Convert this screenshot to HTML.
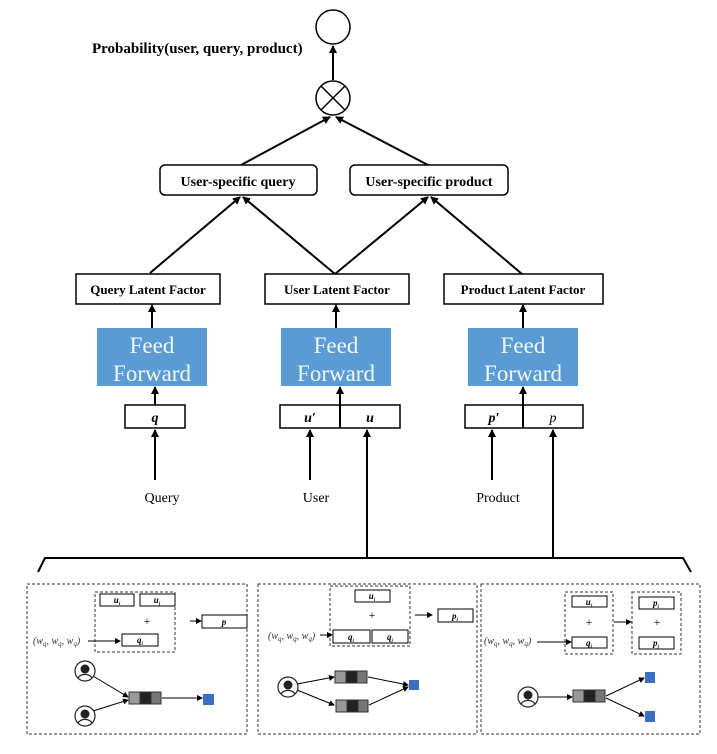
<!DOCTYPE html>
<html><head><meta charset="utf-8"><style>
html,body{margin:0;padding:0;background:#fff;}
svg{display:block;font-family:"Liberation Serif",serif;}
</style></head><body>
<svg width="717" height="754" viewBox="0 0 717 754" xmlns="http://www.w3.org/2000/svg">
<defs>
<marker id="a" markerWidth="8" markerHeight="8" refX="7" refY="4" orient="auto" markerUnits="userSpaceOnUse"><path d="M0,0 L8,4 L0,8 z" fill="#000"/></marker>
<marker id="s" markerWidth="6" markerHeight="6" refX="5" refY="3" orient="auto" markerUnits="userSpaceOnUse"><path d="M0,0 L6,3 L0,6 z" fill="#000"/></marker>
<g id="u">
<circle cx="0" cy="0" r="10" fill="#fff" stroke="#222" stroke-width="1.2"/>
<circle cx="0" cy="-2" r="4.5" fill="#222"/>
<path d="M-7,7 A8,7 0 0 1 7,7" fill="#fff" stroke="#222" stroke-width="1.2"/>
</g>
<g id="b" stroke="#333" stroke-width="1">
<rect x="0" y="0" width="11" height="12" fill="#999"/><rect x="11" y="0" width="11" height="12" fill="#222"/><rect x="22" y="0" width="10" height="12" fill="#777"/>
</g>
</defs>
<g stroke="#000" stroke-width="2" fill="none">
<circle cx="333" cy="27" r="17" stroke-width="1.5"/>
<circle cx="333" cy="98" r="17" stroke-width="1.5"/>
<line x1="321" y1="86" x2="345" y2="110" stroke-width="1.5"/><line x1="345" y1="86" x2="321" y2="110" stroke-width="1.5"/>
<line x1="333" y1="80" x2="333" y2="46" marker-end="url(#a)"/>
<line x1="241" y1="165" x2="330" y2="117" marker-end="url(#a)"/>
<line x1="428" y1="165" x2="336" y2="117" marker-end="url(#a)"/>
<rect x="160" y="165" width="157" height="30" rx="5" stroke-width="1.5"/>
<rect x="350" y="165" width="158" height="30" rx="5" stroke-width="1.5"/>
<line x1="150" y1="273" x2="240" y2="197" marker-end="url(#a)"/>
<line x1="335" y1="274" x2="243" y2="197" marker-end="url(#a)"/>
<line x1="335" y1="274" x2="428" y2="197" marker-end="url(#a)"/>
<line x1="522" y1="274" x2="431" y2="197" marker-end="url(#a)"/>
<rect x="76" y="274" width="144" height="30" stroke-width="1.5"/>
<rect x="265" y="274" width="144" height="30" stroke-width="1.5"/>
<rect x="444" y="274" width="159" height="30" stroke-width="1.5"/>
<line x1="152" y1="328" x2="152" y2="305" marker-end="url(#a)"/>
<line x1="336" y1="328" x2="336" y2="305" marker-end="url(#a)"/>
<line x1="523" y1="328" x2="523" y2="305" marker-end="url(#a)"/>
<line x1="155" y1="405" x2="155" y2="387" marker-end="url(#a)"/>
<line x1="340" y1="428" x2="340" y2="387" marker-end="url(#a)"/>
<line x1="523" y1="428" x2="523" y2="387" marker-end="url(#a)"/>
<rect x="125" y="405" width="60" height="23" stroke-width="1.5"/>
<rect x="280" y="405" width="120" height="23" stroke-width="1.5"/>
<rect x="465" y="405" width="118" height="23" stroke-width="1.5"/>
<line x1="155" y1="480" x2="155" y2="430" marker-end="url(#a)"/>
<line x1="310" y1="480" x2="310" y2="430" marker-end="url(#a)"/>
<line x1="492" y1="480" x2="492" y2="430" marker-end="url(#a)"/>
<line x1="367" y1="557" x2="367" y2="430" marker-end="url(#a)"/>
<line x1="553" y1="557" x2="553" y2="430" marker-end="url(#a)"/>
<polyline points="38,572 45,558 683,558 691,572" stroke-width="2"/>
</g>
<g fill="#5b9bd5"><rect x="97" y="328" width="110" height="58"/><rect x="281" y="328" width="110" height="58"/><rect x="468" y="328" width="110" height="58"/></g>
<g fill="#f4f8fc" font-size="23" text-anchor="middle">
<text x="152" y="353">Feed</text><text x="152" y="381">Forward</text>
<text x="336" y="353">Feed</text><text x="336" y="381">Forward</text>
<text x="523" y="353">Feed</text><text x="523" y="381">Forward</text>
</g>
<g font-weight="bold" text-anchor="middle" font-size="14">
<text x="92" y="53" text-anchor="start" font-size="15">Probability(user, query, product)</text>
<text x="238" y="186">User-specific query</text>
<text x="429" y="186">User-specific product</text>
<text x="148" y="294" font-size="13">Query Latent Factor</text>
<text x="337" y="294" font-size="13">User Latent Factor</text>
<text x="523" y="294" font-size="13">Product Latent Factor</text>
<text x="155" y="422" font-style="italic">q</text>
<text x="310" y="422" font-style="italic">u′</text>
<text x="370" y="422" font-style="italic">u</text>
<text x="494" y="422" font-style="italic">p′</text>
</g>
<g text-anchor="middle" font-size="14">
<text x="553" y="422" font-style="italic">p</text>
<text x="162" y="502">Query</text><text x="316" y="502">User</text><text x="498" y="502">Product</text>
</g>
<g fill="none" stroke="#333" stroke-width="1" stroke-dasharray="3,2">
<rect x="27" y="584" width="220" height="150"/>
<rect x="258" y="584" width="219" height="150"/>
<rect x="481" y="584" width="219" height="150"/>
<rect x="95" y="592" width="80" height="60"/>
<rect x="330" y="586" width="80" height="60"/>
<rect x="565" y="592" width="48" height="62"/>
<rect x="632" y="592" width="49" height="62"/>
</g>
<g fill="#fff" stroke="#000" stroke-width="1">
<rect x="100" y="594" width="34" height="12"/><rect x="140" y="594" width="35" height="12"/>
<rect x="122" y="634" width="36" height="12"/><rect x="202" y="615" width="45" height="13"/>
<rect x="355" y="590" width="35" height="12"/><rect x="333" y="630" width="37" height="13"/><rect x="372" y="630" width="36" height="13"/>
<rect x="438" y="609" width="35" height="13"/>
<rect x="572" y="596" width="35" height="11"/><rect x="572" y="637" width="35" height="11"/>
<rect x="639" y="597" width="35" height="12"/><rect x="639" y="637" width="35" height="12"/>
</g>
<g font-size="9" font-style="italic" font-weight="bold" text-anchor="middle">
<text x="117" y="603">u<tspan font-size="5" dy="2">i</tspan></text>
<text x="157" y="603">u<tspan font-size="5" dy="2">j</tspan></text>
<text x="140" y="643">q<tspan font-size="5" dy="2">i</tspan></text>
<text x="224" y="625">p</text>
<text x="372" y="599">u<tspan font-size="5" dy="2">i</tspan></text>
<text x="351" y="640">q<tspan font-size="5" dy="2">i</tspan></text>
<text x="390" y="640">q<tspan font-size="5" dy="2">j</tspan></text>
<text x="455" y="619">p<tspan font-size="5" dy="2">i</tspan></text>
<text x="589" y="605">u<tspan font-size="5" dy="2">i</tspan></text>
<text x="589" y="646">q<tspan font-size="5" dy="2">i</tspan></text>
<text x="656" y="606">p<tspan font-size="5" dy="2">i</tspan></text>
<text x="656" y="646">p<tspan font-size="5" dy="2">j</tspan></text>
</g>
<g font-size="12" text-anchor="middle"><text x="147" y="625">+</text><text x="372" y="619">+</text><text x="589" y="626">+</text><text x="657" y="626">+</text></g>
<g font-size="10" font-style="italic" fill="#333">
<text x="33" y="644">(w<tspan font-size="7" dy="2">q</tspan><tspan dy="-2">, w</tspan><tspan font-size="7" dy="2">q</tspan><tspan dy="-2">, w</tspan><tspan font-size="7" dy="2">q</tspan><tspan dy="-2">)</tspan></text>
<text x="268" y="639">(w<tspan font-size="7" dy="2">q</tspan><tspan dy="-2">, w</tspan><tspan font-size="7" dy="2">q</tspan><tspan dy="-2">, w</tspan><tspan font-size="7" dy="2">q</tspan><tspan dy="-2">)</tspan></text>
<text x="484" y="644">(w<tspan font-size="7" dy="2">q</tspan><tspan dy="-2">, w</tspan><tspan font-size="7" dy="2">q</tspan><tspan dy="-2">, w</tspan><tspan font-size="7" dy="2">q</tspan><tspan dy="-2">)</tspan></text>
</g>
<g stroke="#000" stroke-width="1" fill="none">
<line x1="88" y1="641" x2="120" y2="641" marker-end="url(#s)"/>
<line x1="190" y1="621" x2="201" y2="621" marker-end="url(#s)"/>
<line x1="320" y1="635" x2="332" y2="635" marker-end="url(#s)"/>
<line x1="415" y1="615" x2="432" y2="615" marker-end="url(#s)"/>
<line x1="537" y1="642" x2="571" y2="642" marker-end="url(#s)"/>
<line x1="614" y1="622" x2="631" y2="622" marker-end="url(#s)"/>
<line x1="93" y1="676" x2="128" y2="697" marker-end="url(#s)"/>
<line x1="93" y1="711" x2="128" y2="700" marker-end="url(#s)"/>
<line x1="162" y1="698" x2="202" y2="698" marker-end="url(#s)"/>
<line x1="297" y1="684" x2="334" y2="677" marker-end="url(#s)"/>
<line x1="297" y1="690" x2="334" y2="705" marker-end="url(#s)"/>
<line x1="368" y1="677" x2="408" y2="685" marker-end="url(#s)"/>
<line x1="369" y1="705" x2="408" y2="687" marker-end="url(#s)"/>
<line x1="538" y1="697" x2="572" y2="697" marker-end="url(#s)"/>
<line x1="606" y1="696" x2="644" y2="678" marker-end="url(#s)"/>
<line x1="606" y1="698" x2="644" y2="716" marker-end="url(#s)"/>
</g>
<use href="#u" x="85" y="671"/><use href="#u" x="85" y="716"/>
<use href="#u" x="288" y="687"/><use href="#u" x="528" y="697"/>
<use href="#b" x="129" y="692"/>
<use href="#b" x="335" y="671"/><use href="#b" x="336" y="700"/>
<use href="#b" x="573" y="690"/>
<g fill="#3b6fc6">
<rect x="203" y="694" width="11" height="11"/>
<rect x="409" y="680" width="10" height="10"/>
<rect x="645" y="672" width="10" height="11"/>
<rect x="645" y="711" width="10" height="11"/>
</g>
</svg>
</body></html>
